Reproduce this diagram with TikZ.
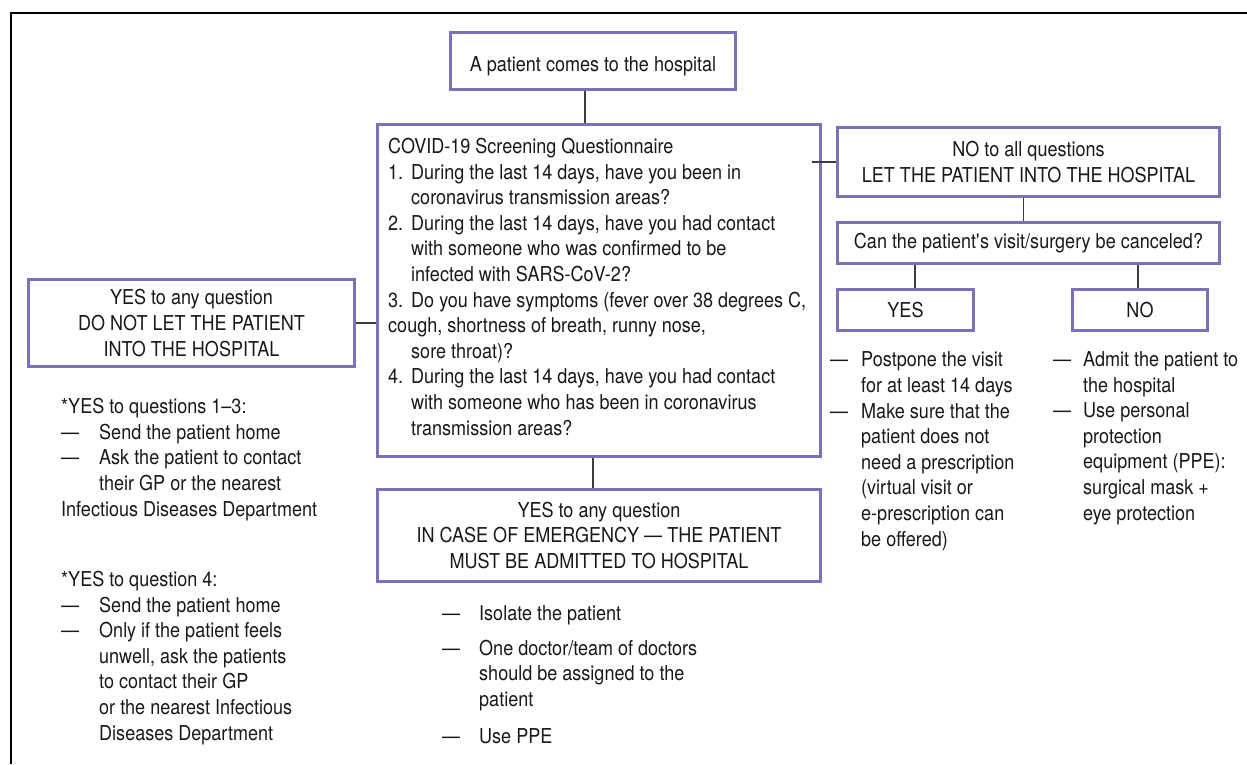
\documentclass[tikz,border=0pt]{standalone}
\usepackage{fontspec}
\setmainfont{TeX Gyre Heros}[FakeStretch=0.88]
\definecolor{boxc}{RGB}{122,114,184}
\definecolor{txtc}{RGB}{25,25,25}
\definecolor{linec}{RGB}{60,60,60}
\tikzset{
  every node/.style={text=txtc, font=\fontsize{20.5}{25.6}\selectfont},
  box/.style={draw=boxc, line width=3pt, fill=white, rectangle, inner sep=0pt, align=center},
  conn/.style={draw=linec, line width=1.3pt},
  frame/.style={draw=black, line width=2pt},
  txt/.style={anchor=base west, align=left, inner sep=0pt}
}
\newcommand{\dsh}[1]{\makebox[#1][l]{—}}
\newcommand{\num}[1]{\makebox[23pt][l]{#1}}
\begin{document}
\begin{tikzpicture}[x=1pt,y=-1pt]
\useasboundingbox (0,0) rectangle (1247,764);
% frame
\coordinate (fa) at (11,764);
\coordinate (fb) at (11,13);
\coordinate (fc) at (1247,13);
\draw[frame] (fa) -- (fb) -- (fc);

% boxes
\node[box, minimum width=285pt, minimum height=57pt, text height=25pt, text depth=4.3pt] (start) at (593,61) {A patient comes to the hospital};
\node[box, minimum width=443pt, minimum height=332pt] (q) at (599,290.5) {};
\node[box, minimum width=382pt, minimum height=69pt] (no) at (1028.5,162) {NO to all questions\\LET THE PATIENT INTO THE HOSPITAL};
\node[box, minimum width=382pt, minimum height=41pt] (can) at (1028.5,243) {Can the patient\textquotesingle s visit/surgery be canceled?};
\node[box, minimum width=136pt, minimum height=41pt] (yes2) at (905.5,310) {YES};
\node[box, minimum width=135pt, minimum height=41pt] (no2) at (1140,310) {NO};
\node[box, minimum width=326pt, minimum height=87pt] (yesl) at (191.5,323) {YES to any question\\DO NOT LET THE PATIENT\\INTO THE HOSPITAL};
\node[box, minimum width=443pt, minimum height=92pt] (emer) at (599,535.5) {YES to any question\\IN CASE OF EMERGENCY — THE PATIENT\\MUST BE ADMITTED TO HOSPITAL};

% questionnaire text (anchored at the baseline of its last line)
\node[txt] (qtext) at (388,435) {COVID-19 Screening Questionnaire\\
\num{1.}During the last 14 days, have you been in\\
\hspace*{23pt}coronavirus transmission areas?\\
\num{2.}During the last 14 days, have you had contact\\
\hspace*{23pt}with someone who was confirmed to be\\
\hspace*{23pt}infected with SARS-CoV-2?\\
\num{3.}Do you have symptoms (fever over 38 degrees C,\\
cough, shortness of breath, runny nose,\\
\hspace*{23pt}sore throat)?\\
\num{4.}During the last 14 days, have you had contact\\
\hspace*{23pt}with someone who has been in coronavirus\\
\hspace*{23pt}transmission areas?};

% connectors
\draw[conn] ([xshift=-8pt]start.south) -- ([xshift=-8pt]start.south |- q.north);
\draw[conn] ([xshift=-10pt]q.east |- no.west) -- (no.west);
\draw[conn] ([xshift=-5pt]no.south) -- ([xshift=-5pt]no.south |- can.north);
\draw[conn] ([xshift=9.5pt]yes2.north) -- ([xshift=9.5pt]yes2.north |- can.south);
\draw[conn] ([xshift=-2pt]no2.north) -- ([xshift=-2pt]no2.north |- can.south);
\draw[conn] (yesl.east) -- (yesl.east -| q.west);
\draw[conn] ([xshift=-6pt]q.south) -- ([xshift=-6pt]q.south |- emer.north);

% left notes
\node[txt] (n13) at (61,516) {*YES to questions 1–3:\\
\dsh{38pt}Send the patient home\\
\dsh{38pt}Ask the patient to contact\\
\hspace*{38pt}their GP or the nearest\\
Infectious Diseases Department};
\node[txt] (n4) at (61,740) {*YES to question 4:\\
\dsh{38pt}Send the patient home\\
\dsh{38pt}Only if the patient feels\\
\hspace*{38pt}unwell, ask the patients\\
\hspace*{38pt}to contact their GP\\
\hspace*{38pt}or the nearest Infectious\\
\hspace*{38pt}Diseases Department};

% emergency notes
\node[txt] (nem) at (442,743) {\dsh{37pt}Isolate the patient\\[9.5pt]
\dsh{37pt}One doctor/team of doctors\\
\hspace*{37pt}should be assigned to the\\
\hspace*{37pt}patient\\[11pt]
\dsh{37pt}Use PPE};

% yes notes
\node[txt] (nyes) at (830,546) {\dsh{31pt}Postpone the visit\\
\hspace*{31pt}for at least 14 days\\
\dsh{31pt}Make sure that the\\
\hspace*{31pt}patient does not\\
\hspace*{31pt}need a prescription\\
\hspace*{31pt}(virtual visit or\\
\hspace*{31pt}e-prescription can\\
\hspace*{31pt}be offered)};

% no notes
\node[txt] (nno) at (1053,520) {\dsh{30pt}Admit the patient to\\
\hspace*{30pt}the hospital\\
\dsh{30pt}Use personal\\
\hspace*{30pt}protection\\
\hspace*{30pt}equipment (PPE):\\
\hspace*{30pt}surgical mask +\\
\hspace*{30pt}eye protection};
\end{tikzpicture}
\end{document}
